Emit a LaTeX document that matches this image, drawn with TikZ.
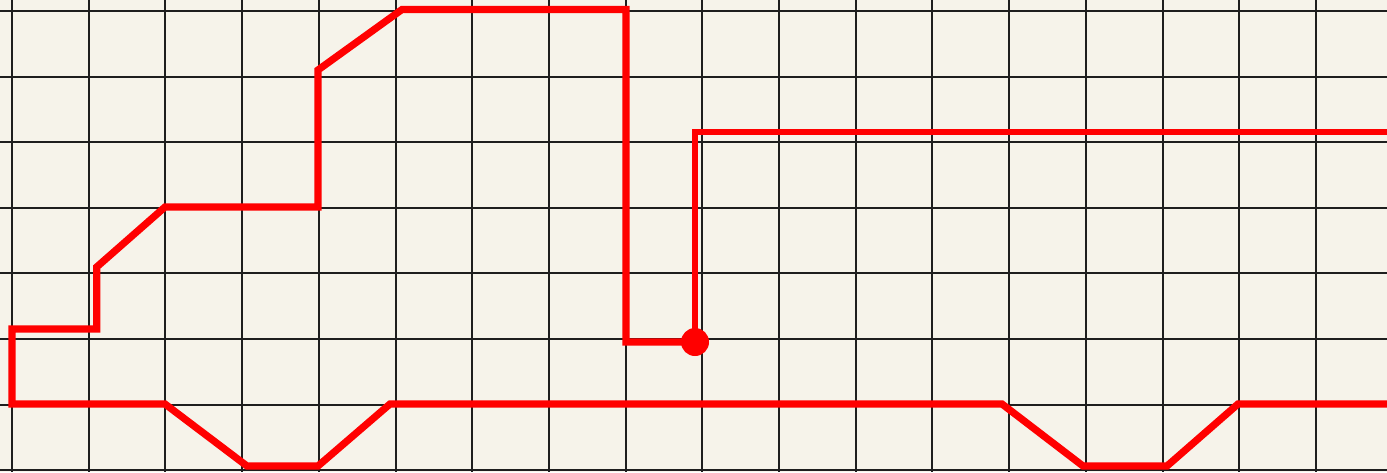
\documentclass[tikz,border=0pt]{standalone}
\usepackage{tikz}
\definecolor{paper}{RGB}{246,243,234}
\definecolor{gridline}{RGB}{30,30,30}
\tikzset{body/.style={red,line width=3.6pt}}
\tikzset{roof/.style={red,line width=2.9pt}}
\begin{document}
\begin{tikzpicture}[x=0.5pt,y=-0.5pt]
	\fill[paper] (0,0) rectangle (1387,472);
	\useasboundingbox (0,0) rectangle (1387,472);
	% grid
	\foreach \i in {0,...,17}
		\draw[gridline,line width=1pt] ({12+76.7*\i},0) -- ({12+76.7*\i},472);
	\foreach \j in {0,...,7}
		\draw[gridline,line width=1pt] (0,{11+65.6*\j}) -- (1387,{11+65.6*\j});
	
	\coordinate (hitch) at (695,342);
	% outline
	\draw[body] (hitch) -- (626,342) -- (626,9.5) -- (402,9.5) -- (318,70) -- (318,207)
		-- (165,207) -- (96.7,267) -- (96.7,329) -- (12,329) -- (12,404)
		-- (165,404) -- (247,466) -- (318,466) -- (390,404) -- (1002,404)
		-- (1083,466) -- (1167,466) -- (1238,404) -- (1387,404);
	\draw[roof] (hitch) -- (695,132) -- (1387,132);
	\fill[red] (hitch) circle (14);
\end{tikzpicture}
\end{document}
